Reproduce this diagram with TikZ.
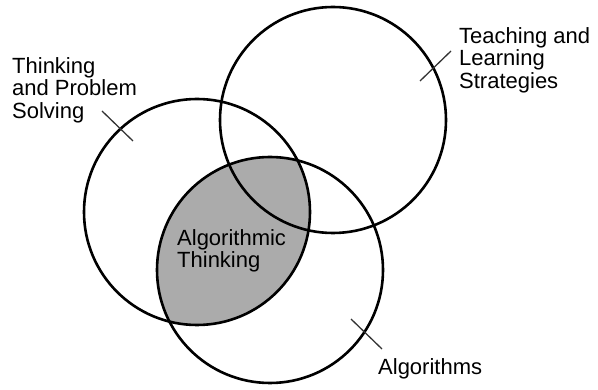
\documentclass[tikz,border=0pt]{standalone}
\usepackage{fontspec}
\setmainfont{Liberation Sans}
\tikzset{x=1pt, y=-1pt,
  ring/.style={circle, draw, line width=2.6pt, minimum size=226pt, inner sep=0pt},
  lbl/.style={align=left, inner sep=0pt, anchor=north west, font=\fontsize{22}{22.5}\selectfont},
  leader/.style={draw=black!80, line width=1.3pt}}

\begin{document}
\begin{tikzpicture}
                \useasboundingbox (0,0) rectangle (598,390);
                \begin{scope}
                  \clip (197,212) circle (113pt);
                  \fill[black!33] (270,270) circle (113pt);
                \end{scope}
                \node (P) [ring] at (197,212) {};
                \node (S) [ring] at (333,120) {};
                \node (G) [ring] at (270,270) {};
                \node (tps) [lbl] at (12,57)   {Thinking\\and Problem\\Solving};
                \node (tls) [lbl] at (459,27)  {Teaching and\\Learning\\Strategies};
                \node (at)  [lbl] at (177,229) {Algorithmic\\Thinking};
                \node (alg) [lbl] at (378,358) {Algorithms};
                \coordinate (tps1) at (102,111);
                \coordinate (tps2) at (133,141);
                \coordinate (tls1) at (420,81);
                \coordinate (tls2) at (451,51);
                \coordinate (alg1) at (351,319);
                \coordinate (alg2) at (382,349);
                \draw[leader] (tps1) -- (tps2);
                \draw[leader] (tls1) -- (tls2);
                \draw[leader] (alg1) -- (alg2);
              \end{tikzpicture}
\end{document}
